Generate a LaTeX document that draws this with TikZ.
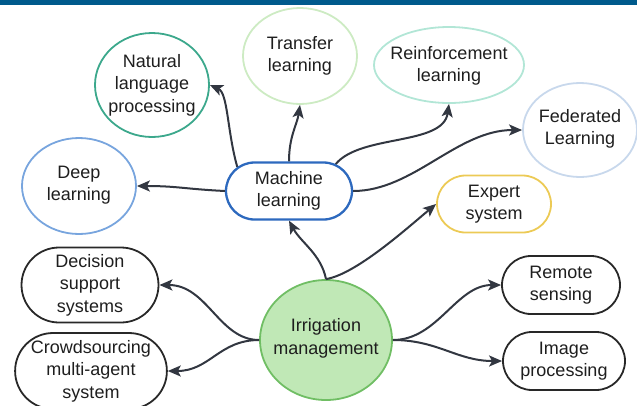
\documentclass[tikz,border=0pt]{standalone}
\usepackage{fontspec}
\setmainfont{Liberation Sans}
\usetikzlibrary{shapes.geometric,shapes.misc,arrows.meta}
\definecolor{topbar}{RGB}{0,90,140}
\definecolor{nlpc}{RGB}{60,168,140}
\definecolor{trc}{RGB}{205,235,195}
\definecolor{rlc}{RGB}{178,230,214}
\definecolor{flc}{RGB}{200,216,236}
\definecolor{dlc}{RGB}{120,165,222}
\definecolor{mlc}{RGB}{45,105,190}
\definecolor{exc}{RGB}{236,202,85}
\definecolor{blk}{RGB}{40,40,40}
\definecolor{irfill}{RGB}{192,232,182}
\definecolor{irdraw}{RGB}{112,190,100}
\definecolor{arr}{RGB}{50,55,65}
\definecolor{txt}{RGB}{30,30,30}
\tikzset{
  lbl/.style={align=center,text=txt,font=\fontsize{18}{22.5}\selectfont,inner sep=0pt},
  oval/.style={ellipse,line width=1.8pt,inner sep=0pt},
  pill/.style={lbl,rounded rectangle,line width=1.8pt},
  conn/.style={draw=arr,line width=2pt,-{Stealth[length=13pt,width=11pt,inset=3pt]}}
}
\begin{document}
\begin{tikzpicture}[x=1pt,y=-1pt]
\useasboundingbox (0,0) rectangle (637,405);
\fill[topbar] (0,0) rectangle (637,4.5);
% oval nodes (shape) and their texts
\node[oval,draw=nlpc,minimum width=114pt,minimum height=104pt] (nlp) at (152,85) {};
\node[lbl] (nlpt) at (nlp.center) {Natural\\language\\processing};
\node[oval,draw=trc,minimum width=114pt,minimum height=96pt] (tl) at (300,56) {};
\node[lbl] (tlt) at (tl.center) {Transfer\\learning};
\node[oval,draw=rlc,minimum width=150pt,minimum height=76pt] (rl) at (449,65) {};
\node[lbl] (rlt) at ([yshift=-1pt]rl.center) {Reinforcement\\learning};
\node[oval,draw=flc,minimum width=114pt,minimum height=94pt] (fl) at (580,130) {};
\node[lbl] (flt) at ([yshift=1pt]fl.center) {Federated\\Learning};
\node[oval,draw=dlc,minimum width=114pt,minimum height=96pt] (dl) at (79,186) {};
\node[lbl] (dlt) at ([yshift=1pt]dl.center) {Deep\\learning};
\node[oval,fill=irfill,draw=irdraw,minimum width=132pt,minimum height=120pt] (ir) at (326,340) {};
\node[lbl] (irt) at ([yshift=1.5pt]ir.center) {Irrigation\\management};
% pill nodes
\node[pill,draw=mlc,line width=2.3pt,minimum width=126pt,minimum height=57pt] (ml) at (289,191) {Machine\\learning};
\node[pill,draw=exc,minimum width=114pt,minimum height=57pt] (ex) at (494,204) {Expert\\system};
\node[pill,draw=blk,minimum width=137pt,minimum height=75pt] (ds) at (90,285) {Decision\\support\\systems};
\node[pill,draw=blk,minimum width=151pt,minimum height=76pt] (cs) at (91,371) {Crowdsourcing\\multi-agent\\system};
\node[pill,draw=blk,minimum width=118pt,minimum height=58pt] (rs) at (561,285) {Remote\\sensing};
\node[pill,draw=blk,minimum width=122pt,minimum height=58pt] (ip) at (564,361) {Image\\processing};
% connectors
\draw[conn] (ml.west) .. controls +(-40,-2) and +(40,0) .. (dl.east);
\draw[conn] (ml.155) .. controls +(-10,-35) and +(18,8) .. (nlp.east);
\draw[conn] (ml.north) .. controls +(0,-25) and +(-3,20) .. (tl.south);
\draw[conn] (ml.30) .. controls +(25,-30) and +(-6,42) .. (rl.south);
\draw[conn] (ml.east) .. controls +(60,0) and +(-65,0) .. (fl.west);
\draw[conn] (ir.north) .. controls +(-5,-25) and +(12,22) .. (ml.south);
\draw[conn] (ir.north) .. controls +(30,-5) and +(-30,25) .. (ex.west);
\draw[conn] (ir.west) .. controls +(-40,0) and +(48,0) .. (ds.east);
\draw[conn] (ir.west) .. controls +(-40,0) and +(42,0) .. (cs.east);
\draw[conn] (ir.east) .. controls +(45,0) and +(-45,0) .. (rs.west);
\draw[conn] (ir.east) .. controls +(45,0) and +(-45,0) .. (ip.west);
\end{tikzpicture}
\end{document}
